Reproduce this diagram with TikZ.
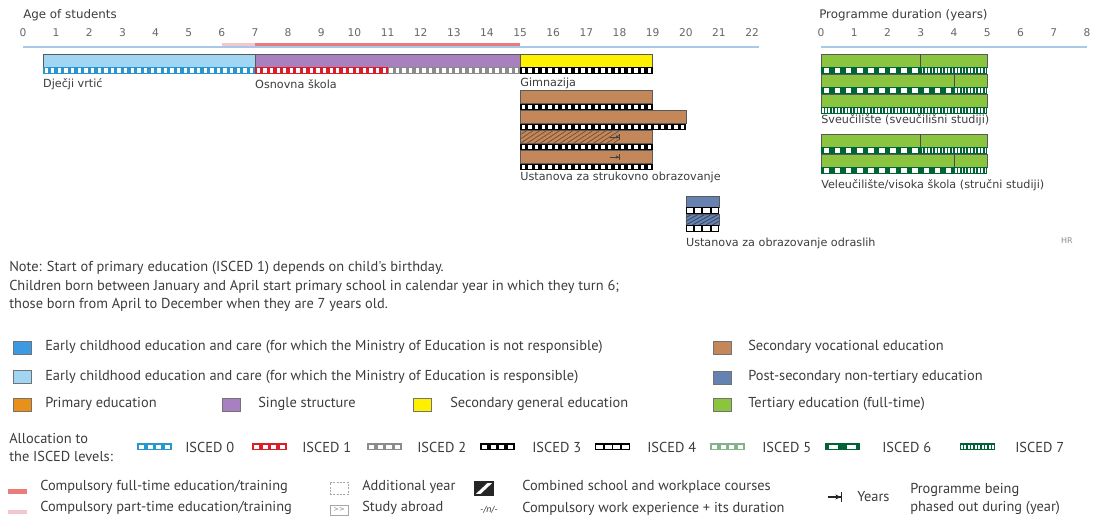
\documentclass[tikz,border=0pt]{standalone}
\usepackage{fontspec}
\setmainfont{DejaVu Sans}
\newfontfamily\legfont{PT Sans}
\usetikzlibrary{positioning,arrows.meta}
\definecolor{ececnr}{RGB}{59,154,225}
\definecolor{ececr}{RGB}{160,213,243}
\definecolor{primary}{RGB}{232,144,26}
\definecolor{single}{RGB}{168,128,192}
\definecolor{secgen}{RGB}{255,240,0}
\definecolor{secvoc}{RGB}{196,135,90}
\definecolor{postsec}{RGB}{102,130,176}
\definecolor{tert}{RGB}{139,197,63}
\definecolor{compfull}{RGB}{236,124,124}
\definecolor{comppart}{RGB}{245,198,203}
\definecolor{isczero}{RGB}{40,150,210}
\definecolor{iscone}{RGB}{220,30,40}
\definecolor{isctwo}{RGB}{140,140,140}
\definecolor{iscfive}{RGB}{130,180,135}
\definecolor{iscsix}{RGB}{0,100,55}
\definecolor{axisblue}{RGB}{168,200,232}
\definecolor{txt}{RGB}{60,60,60}
\tikzset{
  x=0.75pt,y=-0.75pt,
  bar/.style={draw=black!65,line width=0.4pt},
  div/.style={draw=black!70,line width=0.5pt},
  axisline/.style={axisblue,line width=1pt},
  cline/.style={line width=2.4pt},
  hdr/.style={font=\fontsize{8.9}{10}\selectfont,text=txt,inner sep=0pt,anchor=west},
  lab/.style={font=\fontsize{8.4}{9}\selectfont,text=txt,inner sep=0pt,anchor=west},
  tck/.style={font=\fontsize{8}{9}\selectfont,text=black!60,inner sep=0pt},
  leg/.style={font=\legfont\fontsize{10.8}{13.5}\selectfont,text=txt,inner sep=0pt,anchor=west,align=left},
  swatch/.style={draw=black!55,line width=0.5pt,minimum width=13.5pt,minimum height=9.5pt,inner sep=0pt},
  hatchline/.style={line width=0.6pt},
  phase/.style={-{Stealth[length=2.2pt,width=2.6pt]Bar[width=4pt,line width=0.6pt]},line width=0.5pt,black!75},
  phaseleg/.style={-{Stealth[length=4pt,width=4pt]Bar[width=7pt,line width=1pt]},line width=1pt,black!85}
}
% ISCED strip: from, to, top, colour, period, hole share
\newcommand\isced[6]{%
  \fill[#4] (#1,#3) rectangle (#2,#3+7);
  \pgfmathtruncatemacro\nhole{round((#2-#1)/#5)-1}
  \foreach \i in {0,...,\nhole}
    \fill[white] ({#1+(\i+0.5-#6/2)*#5},#3+1.4) rectangle ({#1+(\i+0.5+#6/2)*#5},#3+5.6);
}
% hatching: from, to, top, bottom, colour
\newcommand\hatch[5]{%
  \begin{scope}
    \clip (#1,#3) rectangle (#2,#4);
    \pgfmathtruncatemacro\nline{round((#2-#1)/0.2)+1}
    \foreach \i in {-4,...,\nline}
      \draw[hatchline,#5] ({#1+\i*0.2},#4) -- ++(0.6,{-(#4-#3)});
  \end{scope}
}

\begin{document}
\begin{tikzpicture}
\useasboundingbox (0,0) rectangle (1097,523);
% ages
\begin{scope}[xshift=17.25pt,x=24.855pt]
  \node[hdr] (age) at (0,15) {Age of students};
  \foreach \a in {0,...,22} \node[tck] (a\a) at (\a,33) {\a};
  \coordinate (ax0) at (0,47); \coordinate (ax22) at (22.2,47);
  \draw[axisline] (ax0) -- (ax22);
  \draw[cline,comppart] (6,44.8) -- (7,44.8);
  \draw[cline,compfull] (7,44.8) -- (15,44.8);
  \filldraw[bar,fill=ececr] (0.6,54) rectangle (7,67);
  \isced{0.6}{7}{67}{isczero}{0.2}{0.5}
  \filldraw[bar,fill=single] (7,54) rectangle (15,67);
  \isced{7}{11}{67}{iscone}{0.2}{0.5}
  \isced{11}{15}{67}{isctwo}{0.2}{0.5}
  \filldraw[bar,fill=secgen] (15,54) rectangle (19,67);
  \isced{15}{19}{67}{black}{0.2}{0.5}
  \node[lab] (vrtic) at (0.6,84) {Dječji vrtić};
  \node[lab] (osnovna) at (7,84) {Osnovna škola};
  \node[lab] (gimn) at (15,83) {Gimnazija};
  \foreach \t/\e in {90.5/19,110.5/20,130.5/19,150.5/19} {
    \fill[secvoc] (15,\t) rectangle (\e,\t+13);
    \isced{15}{\e}{\t+13}{black}{0.2}{0.5}
  }
  \hatch{15}{18}{130.5}{143.5}{secvoc!60!black}
  \foreach \t/\e in {90.5/19,110.5/20,130.5/19,150.5/19}
    \draw[bar] (15,\t) rectangle (\e,\t+13);
  \draw[phase] (17.72,137) -- (18,137);
  \draw[phase] (17.72,157) -- (18,157);
  \node[lab] (strukovno) at (15,177) {Ustanova za strukovno obrazovanje};
  \fill[postsec] (20,196.5) rectangle (21,207);
  \fill[postsec] (20,214) rectangle (21,225);
  \hatch{20}{21}{214}{225}{postsec!55!black}
  \draw[bar] (20,196.5) rectangle (21,207);
  \draw[bar] (20,214) rectangle (21,225);
  \isced{20}{21}{207}{black}{0.25}{0.75}
  \isced{20}{21}{225}{black}{0.25}{0.75}
  \node[lab] (odrasli) at (20,243) {Ustanova za obrazovanje odraslih};
\end{scope}
% programme duration
\begin{scope}[xshift=615.75pt,x=24.94pt]
  \node[hdr] (dur) at (-0.06,15) {Programme duration (years)};
  \foreach \a in {0,...,8} \node[tck] (d\a) at (\a,33) {\a};
  \coordinate (dx0) at (0,47); \coordinate (dx8) at (8,47);
  \draw[axisline] (dx0) -- (dx8);
  \foreach \t/\d in {54/3,74/4,134/3,154/4} {
    \filldraw[bar,fill=tert] (0,\t) rectangle (5,\t+13);
    \draw[div] (\d,\t) -- (\d,\t+13);
    \isced{0}{\d}{\t+13}{iscsix}{0.3333}{0.5}
    \isced{\d}{5}{\t+13}{iscsix}{0.1}{0.5}
  }
  \filldraw[bar,fill=tert] (0,94) rectangle (5,107);
  \isced{0}{5}{107}{iscsix}{0.1}{0.5}
  \node[lab] (sveuc) at (0,120) {Sveučilište (sveučilišni studiji)};
  \node[lab] (veleuc) at (0,185) {Veleučilište/visoka škola (stručni studiji)};
\end{scope}
\node[font=\fontsize{6}{7}\selectfont,text=black!45] (hr) at (1067,241) {HR};
% note
\node[leg] (note1) at (9,268) {Note: Start of primary education (ISCED 1) depends on child's birthday.};
\node[leg] (note2) at (9,287) {Children born between January and April start primary school in calendar year in which they turn 6;};
\node[leg] (note3) at (9,305) {those born from April to December when they are 7 years old.};
% legend
\node[swatch,fill=ececnr] (s1) at (22,348) {};
\node[leg] (l1) at (45,347) {Early childhood education and care (for which the Ministry of Education is not responsible)};
\node[swatch,fill=ececr] (s2) at (22,377) {};
\node[leg] (l2) at (45,377) {Early childhood education and care (for which the Ministry of Education is responsible)};
\node[swatch,fill=primary] (s3) at (22,405) {};
\node[leg] (l3) at (45,404) {Primary education};
\node[swatch,fill=single] (s4) at (231,405) {};
\node[leg] (l4) at (258,404) {Single structure};
\node[swatch,fill=secgen] (s5) at (422.5,405) {};
\node[leg] (l5) at (450,404) {Secondary general education};
\node[swatch,fill=secvoc] (s6) at (722.5,348) {};
\node[leg] (l6) at (748,347) {Secondary vocational education};
\node[swatch,fill=postsec] (s7) at (722.5,378) {};
\node[leg] (l7) at (748,377) {Post-secondary non-tertiary education};
\node[swatch,fill=tert] (s8) at (722.5,405) {};
\node[leg] (l8) at (748,404) {Tertiary education (full-time)};
\node[leg] (alloc) at (9,447) {Allocation to\\the ISCED levels:};
\foreach \xs/\xt/\c/\p/\h [count=\k from 0] in {137/185/isczero/8.75/0.55,252/302/iscone/8.75/0.55,
    367/417/isctwo/8.75/0.6,480/532/black/8.75/0.55,595/647/black/8.75/0.8,
    710/762/iscfive/8.75/0.55,825/882/iscsix/17.5/0.5,960/1015/iscsix/3.5/0.5} {
  \isced{\xs}{\xs+35}{443.5}{\c}{\p}{\h}
  \node[leg] (isc\k) at (\xt,447) {ISCED \k};
}
\draw[line width=3.4pt,compfull] (8,491.5) -- (27,491.5);
\node[leg] (cfull) at (40,487) {Compulsory full-time education/training};
\draw[line width=3.4pt,comppart] (8,512) -- (27,512);
\node[leg] (cpart) at (40,508) {Compulsory part-time education/training};
\node[swatch,draw=black!35,dash pattern=on 1.5pt off 1pt] (addy) at (339,488.5) {};
\node[leg] (laddy) at (362,487) {Additional year};
\node[swatch,draw=black!35,minimum height=7.5pt,font=\fontsize{5}{5}\selectfont,text=black!50] (abroad) at (339,510) {>{}>};
\node[leg] (labroad) at (362,508) {Study abroad};
\begin{scope}
  \clip (475,482) rectangle (493,495);
  \fill[black!85] (475,482) rectangle (493,495);
  \draw[white,line width=2.4pt] (476,496) -- (492,481);
\end{scope}
\draw[black!85,line width=0.8pt] (475,482) rectangle (493,495);
\node[leg] (lcomb) at (522,487) {Combined school and workplace courses};
\node[font=\fontsize{6.3}{7}\selectfont\itshape,text=txt] (wexp) at (489,510) {-/n/-};
\node[leg] (lwexp) at (522,509) {Compulsory work experience + its duration};
\coordinate (pa) at (828,497); \coordinate (pb) at (842,497);
\draw[phaseleg] (pa) -- (pb);
\node[leg] (years) at (857,497) {Years};
\node[leg] (lphase) at (910,499) {Programme being\\phased out during (year)};
\end{tikzpicture}
\end{document}
